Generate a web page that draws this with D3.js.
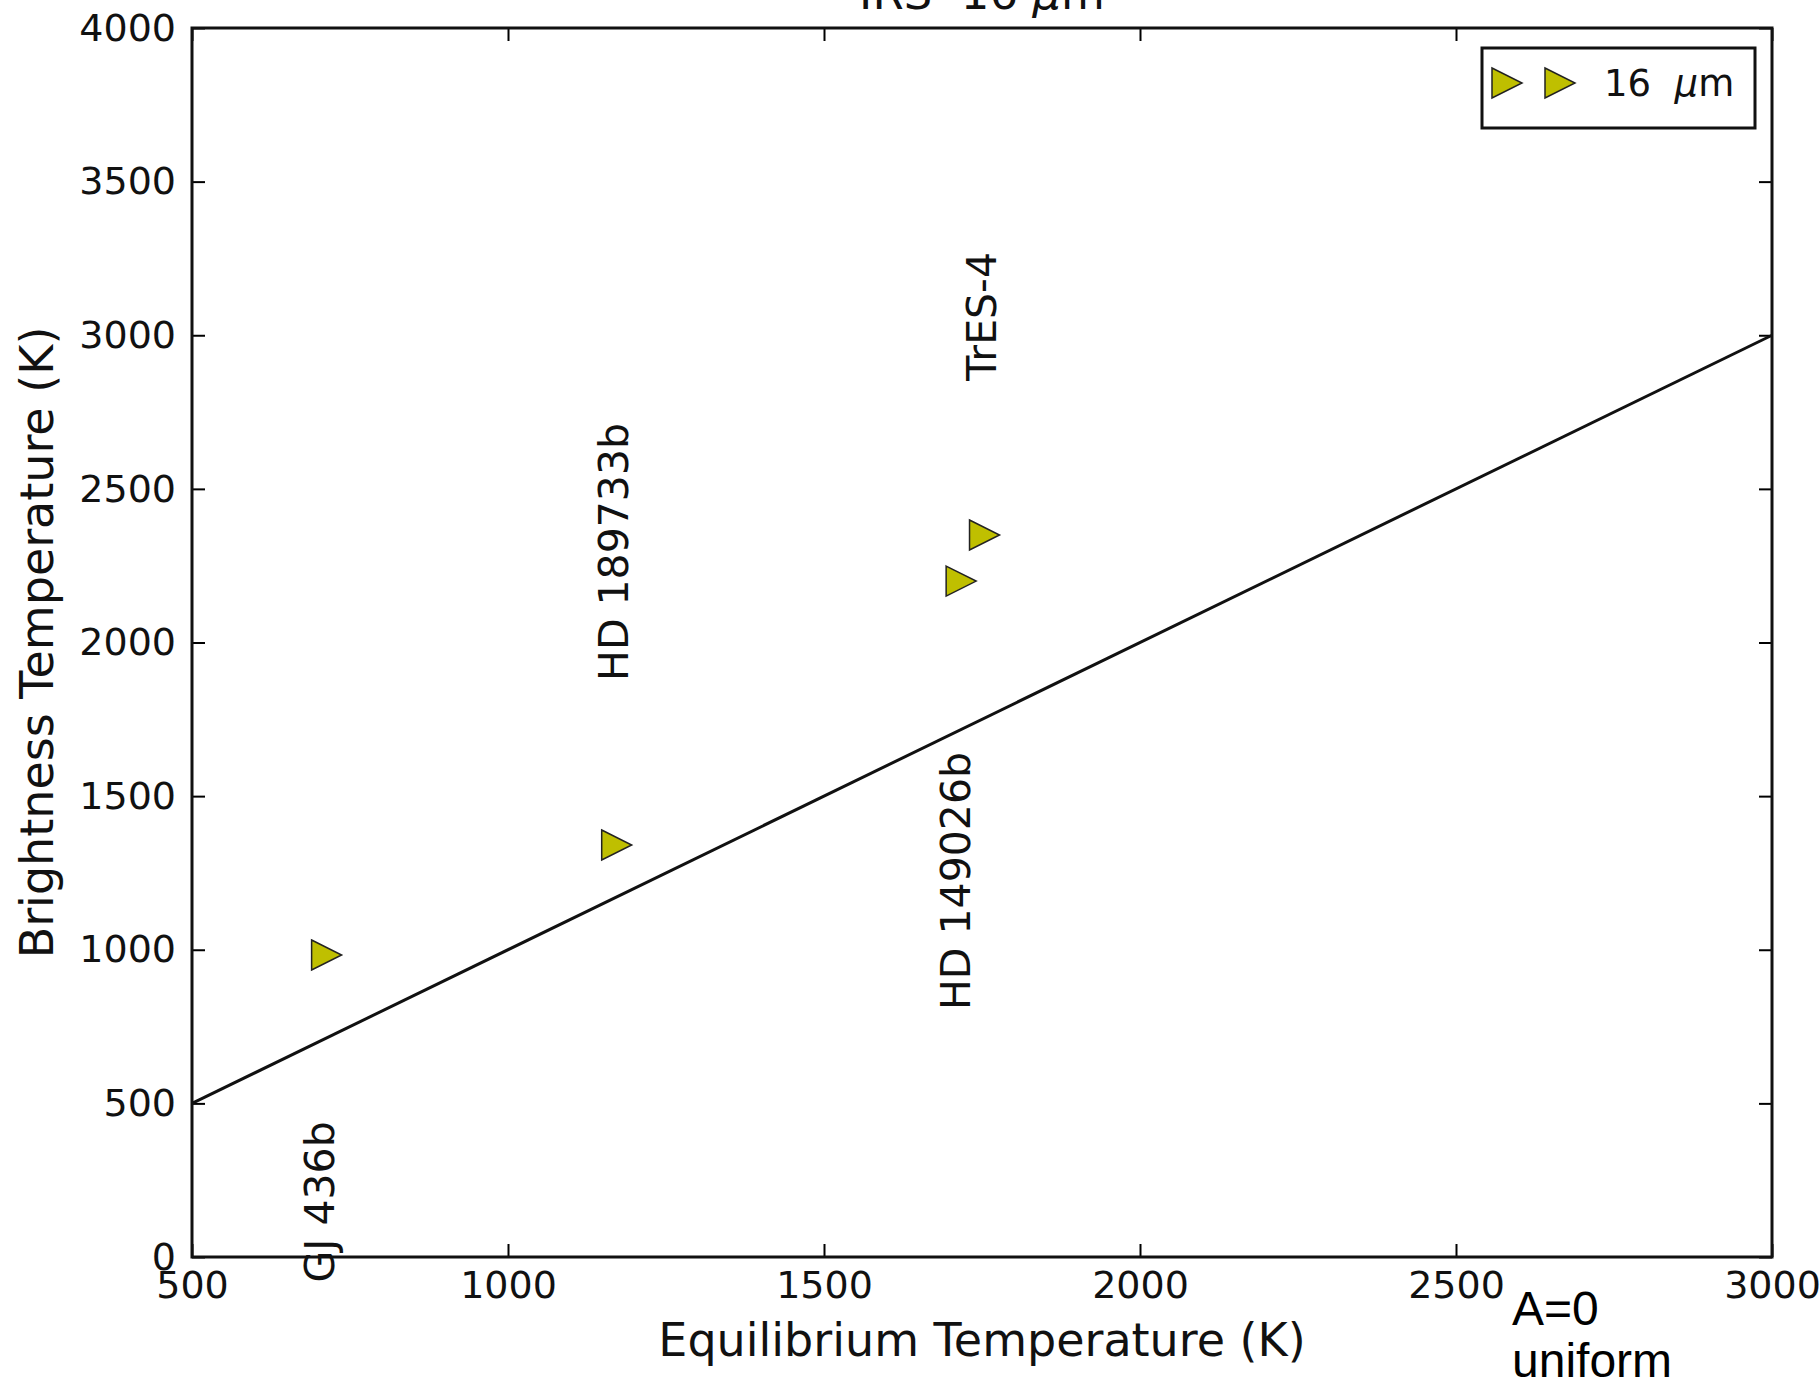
<!DOCTYPE html>
<html>
<head>
<meta charset="utf-8">
<script src="https://cdn.jsdelivr.net/npm/d3@7"></script>
<style>
    body { margin: 0; background: #fff; }
    svg { display: block; font-family: "DejaVu Sans", sans-serif; }
    text { white-space: pre; }
</style>
</head>
<body>
<svg id="chart"></svg>
<script>
// data
var planets = ["GJ 436b", "HD 189733b", "HD 149026b", "TrES-4"];
var teq = [713, 1172, 1717, 1754];
var tb = [983, 1341, 2200, 2350];
// where each planet's rotated label starts (data coords)
var labelX = [703, 1167, 1709, 1750];
var labelY = [-83, 1875, 804, 2852];

var xTicks = [500, 1000, 1500, 2000, 2500, 3000];
var yTicks = [0, 500, 1000, 1500, 2000, 2500, 3000, 3500, 4000];
var refLine = [500, 3000];

var svgWidth = 1820,
    svgHeight = 1384;
var margin = { top: 28, right: 48, bottom: 127, left: 192 };

var svg = d3.select('#chart')
    .attr('width', svgWidth)
    .attr('height', svgHeight);

var x = d3.scaleLinear()
    .domain([500, 3000])
    .range([margin.left, svgWidth - margin.right]);

var y = d3.scaleLinear()
    .domain([0, 4000])
    .range([svgHeight - margin.bottom, margin.top]);

var tickLen = 13;
var fmt = d3.format('d');

// axes: ticks point inward on all four sides
svg.append('g')
    .attr('transform', 'translate(0,' + y(0) + ')')
    .call(d3.axisBottom(x).tickValues(xTicks).tickFormat(fmt)
        .tickSizeInner(-tickLen).tickSizeOuter(0).tickPadding(14));

svg.append('g')
    .attr('transform', 'translate(' + x(500) + ',0)')
    .call(d3.axisLeft(y).tickValues(yTicks).tickFormat(fmt)
        .tickSizeInner(-tickLen).tickSizeOuter(0).tickPadding(16));

svg.append('g')
    .attr('transform', 'translate(0,' + y(4000) + ')')
    .call(d3.axisTop(x).tickValues(xTicks).tickSizeInner(-tickLen).tickSizeOuter(0).tickFormat(''));

svg.append('g')
    .attr('transform', 'translate(' + x(3000) + ',0)')
    .call(d3.axisRight(y).tickValues(yTicks).tickSizeInner(-tickLen).tickSizeOuter(0).tickFormat(''));

svg.selectAll('.domain').remove();
svg.selectAll('.tick line').attr('stroke', '#000').attr('stroke-width', 2);
svg.selectAll('.tick text')
    .attr('fill', '#111')
    .style('font-family', '"DejaVu Sans", sans-serif')
    .style('font-size', '38px');

// one-to-one line
var line = d3.line()
    .x(function (d) { return x(d); })
    .y(function (d) { return y(d); });

svg.append('path')
    .datum(refLine)
    .attr('d', line)
    .attr('fill', 'none')
    .attr('stroke', '#111')
    .attr('stroke-width', 3);

// right-pointing triangle marker
var h = 15;
var tri = 'M' + (-h) + ',' + (-h) + 'L' + h + ',0L' + (-h) + ',' + h + 'Z';

svg.selectAll('.pt')
    .data(teq)
    .enter()
    .append('path')
    .attr('class', 'pt')
    .attr('d', tri)
    .attr('transform', function (d, i) {
        return 'translate(' + x(d) + ',' + y(tb[i]) + ')';
    })
    .attr('fill', '#bfbf00')
    .attr('stroke', '#222')
    .attr('stroke-width', 1.5);

// planet names, rotated
svg.selectAll('.name')
    .data(planets)
    .enter()
    .append('text')
    .attr('class', 'name')
    .attr('transform', function (d, i) {
        return 'translate(' + x(labelX[i]) + ',' + y(labelY[i]) + ') rotate(-90)';
    })
    .attr('dominant-baseline', 'central')
    .attr('font-size', 41)
    .attr('fill', '#111')
    .text(function (d) { return d; });

// frame
svg.append('rect')
    .attr('x', x(500))
    .attr('y', y(4000))
    .attr('width', x(3000) - x(500))
    .attr('height', y(0) - y(4000))
    .attr('fill', 'none')
    .attr('stroke', '#111')
    .attr('stroke-width', 3);

// axis labels and title
var cx = (x(500) + x(3000)) / 2;

svg.append('text')
    .attr('x', cx)
    .attr('y', 1356)
    .attr('text-anchor', 'middle')
    .attr('font-size', 46)
    .attr('fill', '#111')
    .text('Equilibrium Temperature (K)');

svg.append('text')
    .attr('transform', 'translate(53,' + (y(0) + y(4000)) / 2 + ') rotate(-90)')
    .attr('text-anchor', 'middle')
    .attr('font-size', 46)
    .attr('fill', '#111')
    .text('Brightness Temperature (K)');

var title = svg.append('text')
    .attr('x', cx)
    .attr('y', 9)
    .attr('text-anchor', 'middle')
    .attr('font-size', 45)
    .attr('fill', '#111');
title.append('tspan').text('IRS  16 ');
title.append('tspan').attr('font-style', 'italic').text('μ');
title.append('tspan').text('m');

// legend
var legend = svg.append('g');
legend.append('rect')
    .attr('x', 1482)
    .attr('y', 48)
    .attr('width', 273)
    .attr('height', 80)
    .attr('fill', '#fff')
    .attr('stroke', '#111')
    .attr('stroke-width', 3);

legend.selectAll('.lm')
    .data([1507, 1560])
    .enter()
    .append('path')
    .attr('class', 'lm')
    .attr('d', tri)
    .attr('transform', function (d) { return 'translate(' + d + ',83)'; })
    .attr('fill', '#bfbf00')
    .attr('stroke', '#222')
    .attr('stroke-width', 1.5);

var lt = legend.append('text')
    .attr('x', 1604)
    .attr('y', 96)
    .attr('font-size', 37)
    .attr('fill', '#111');
lt.append('tspan').text('16  ');
lt.append('tspan').attr('font-style', 'italic').text('μ');
lt.append('tspan').text('m');

// figure note, bottom right
var note = svg.append('text')
    .attr('x', 1512)
    .attr('y', 1325)
    .style('font-family', '"Liberation Sans", Arial, sans-serif')
    .attr('font-size', 48)
    .attr('fill', '#000');
note.append('tspan').attr('x', 1512).text('A=0');
note.append('tspan').attr('x', 1512).attr('dy', 52).text('uniform');
</script>
</body>
</html>
